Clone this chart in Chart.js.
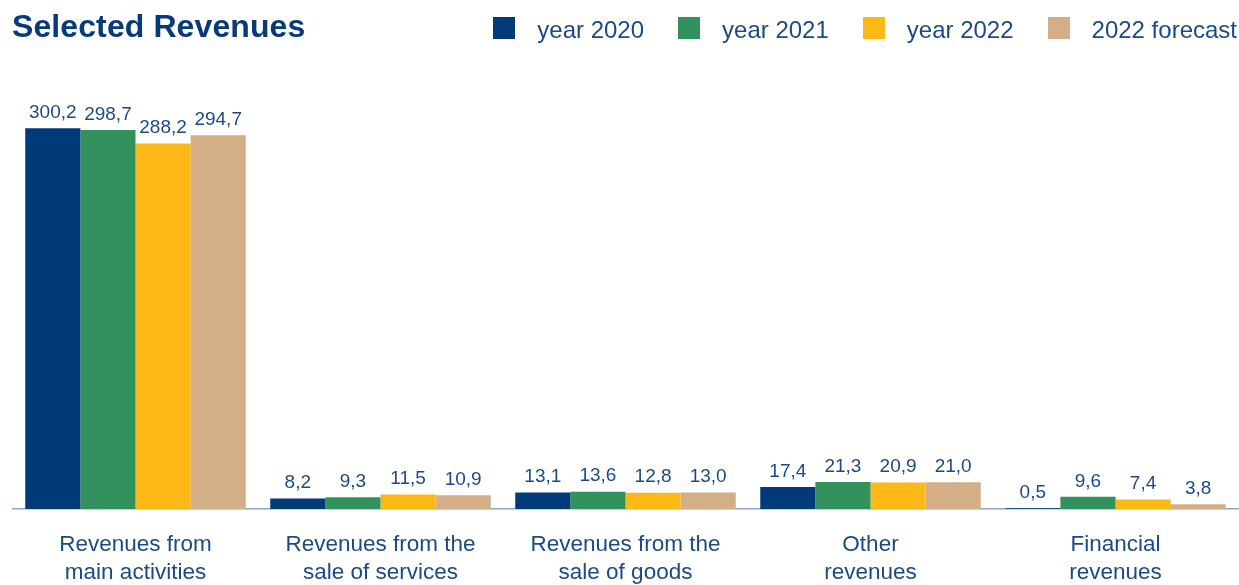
<!DOCTYPE html>
<html lang="en">
<head>
<meta charset="utf-8" />
<title>Selected Revenues</title>
<script src="https://cdn.jsdelivr.net/npm/chart.js@4.4.1/dist/chart.umd.min.js"></script>
<style>
  html, body { margin: 0; padding: 0; background: #fff; }
  .wrap { position: relative; width: 1239px; height: 585px; overflow: hidden; font-family: "Liberation Sans", Arial, sans-serif; }
  h1 {
    position: absolute; left: 12px; top: 10px; margin: 0; line-height: 32px;
    font-size: 32px; font-weight: 700; letter-spacing: 0.1px; color: #063a78;
  }
  #legend {
    position: absolute; right: 2px; top: 17px; height: 22px; display: flex; align-items: center;
    color: #1b4a86; font-size: 24px; line-height: 24px;
  }
  #legend .item { display: flex; align-items: center; margin-left: 34px; }
  #legend .box { width: 22px; height: 22px; margin-right: 22px; }
  #legend .txt { position: relative; top: 2px; }
  canvas { position: absolute; left: 0; top: 0; }
</style>
</head>
<body>
<div class="wrap">
  <canvas id="c" width="1239" height="585"></canvas>
  <h1>Selected Revenues</h1>
  <div id="legend"></div>
</div>
<script>
const categories = [
  ['Revenues from', 'main activities'],
  ['Revenues from the', 'sale of services'],
  ['Revenues from the', 'sale of goods'],
  ['Other', 'revenues'],
  ['Financial', 'revenues'],
];
const seriesNames = ['year 2020', 'year 2021', 'year 2022', '2022 forecast'];
const year2020 = [300.2, 8.2, 13.1, 17.4, 0.5];
const year2021 = [298.7, 9.3, 13.6, 21.3, 9.6];
const year2022 = [288.2, 11.5, 12.8, 20.9, 7.4];
const forecast2022 = [294.7, 10.9, 13.0, 21.0, 3.8];
const colors = ['#003a78', '#33915e', '#fbb817', '#d4ae86'];

const TEXT = '#1b4a86';
const FONT = '"Liberation Sans", Arial, sans-serif';

// legend in html, built from the series names
const legend = document.getElementById('legend');
seriesNames.forEach((name, i) => {
  const item = document.createElement('div');
  item.className = 'item';
  if (i === 0) item.style.marginLeft = '0';
  const box = document.createElement('span');
  box.className = 'box';
  box.style.background = colors[i];
  const label = document.createElement('span');
  label.className = 'txt';
  label.textContent = name;
  item.appendChild(box);
  item.appendChild(label);
  legend.appendChild(item);
});

const valueLabels = {
  id: 'valueLabels',
  afterDatasetsDraw(chart) {
    const ctx = chart.ctx;
    ctx.save();
    ctx.font = '19px ' + FONT;
    ctx.fillStyle = TEXT;
    ctx.textAlign = 'center';
    ctx.textBaseline = 'bottom';
    chart.data.datasets.forEach((ds, di) => {
      chart.getDatasetMeta(di).data.forEach((bar, i) => {
        const txt = ds.data[i].toFixed(1).replace('.', ',');
        ctx.fillText(txt, bar.x, bar.y - 6);
      });
    });
    ctx.restore();
  },
};

const allSeries = [year2020, year2021, year2022, forecast2022];

new Chart(document.getElementById('c'), {
  type: 'bar',
  data: {
    labels: categories,
    datasets: allSeries.map((data, i) => ({
      label: seriesNames[i],
      data,
      backgroundColor: colors[i],
      borderWidth: 0,
      categoryPercentage: 0.9,
      barPercentage: 1.0,
    })),
  },
  options: {
    responsive: false,
    animation: false,
    layout: { padding: { top: 65, left: 13, right: 1, bottom: 0 } },
    plugins: { legend: { display: false }, tooltip: { enabled: false } },
    scales: {
      x: {
        grid: { display: false, drawTicks: false },
        border: { display: true, color: '#8fa6c4', width: 1.5 },
        ticks: {
          color: TEXT,
          padding: 22,
          font: { family: FONT, size: 22.5, lineHeight: '28px' },
          maxRotation: 0,
          autoSkip: false,
        },
        afterFit(scale) { scale.height = 76; },
      },
      y: {
        display: false,
        min: 0,
        max: 350,
      },
    },
  },
  plugins: [valueLabels],
});
</script>
</body>
</html>
